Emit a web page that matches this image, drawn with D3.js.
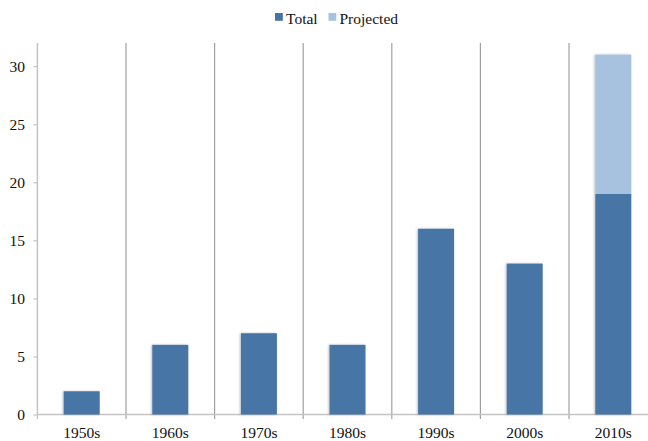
<!DOCTYPE html>
<html><head><meta charset="utf-8">
<script src="https://cdn.jsdelivr.net/npm/d3@7"></script>
<style>body{margin:0;background:#fff}svg{display:block}svg text{font-family:'Liberation Serif','Times New Roman',Times,'DejaVu Serif',serif !important}</style>
</head><body><svg id="c" width="648" height="441"></svg>
<script>
const categories = ["1950s","1960s","1970s","1980s","1990s","2000s","2010s"];
const totalValues = [2,6,7,6,16,13,19];
const projectedValues = [0,0,0,0,0,0,12];
const yTicks = [0,5,10,15,20,25,30];
const seriesNames = ["Total","Projected"];
const colors = ["#4674A5","#A6C2DF"];

(function(){
const FONT = "'Liberation Serif','Times New Roman',Times,serif";
const svg = d3.select("#c");
const pLeft = 37.4, step = 88.6, pTop = 43, pBottom = 414.5;
const x = d3.scaleBand().domain(categories).range([pLeft, pLeft + step*categories.length]).paddingInner(0).paddingOuter(0);
const y = d3.scaleLinear().domain([0,32]).range([pBottom, pTop]);

// vertical separators
const seps = categories.slice(0,-1).map((c)=>x(c)+x.bandwidth());
svg.append("g").selectAll("line").data(seps).join("line")
  .attr("x1",d=>d).attr("x2",d=>d).attr("y1",pTop).attr("y2",pBottom+4.5)
  .attr("stroke","#a0a0a0").attr("stroke-width",1.2);

// y axis
const ya = d3.axisLeft(y).tickValues(yTicks).tickSize(4).tickPadding(8.5);
const gy = svg.append("g").attr("transform",`translate(${pLeft},0)`).call(ya).attr("font-family",FONT).attr("font-size",15.5);
gy.select(".domain").attr("stroke","#c4c4c4").attr("stroke-width",1.5).attr("d",`M0,${pTop}V${pBottom}`);
gy.selectAll(".tick line").attr("stroke","#c4c4c4").attr("stroke-width",1.2);
gy.selectAll(".tick text").attr("fill","#111");

// x axis baseline
svg.append("line").attr("x1",pLeft).attr("x2",648).attr("y1",pBottom).attr("y2",pBottom).attr("stroke","#c4c4c4").attr("stroke-width",1.5);
svg.append("line").attr("x1",pLeft).attr("x2",pLeft).attr("y1",pBottom).attr("y2",pBottom+4.5).attr("stroke","#c4c4c4").attr("stroke-width",1.2);

// x labels
const xa = d3.axisBottom(x).tickSize(0).tickPadding(12.5);
const gx = svg.append("g").attr("transform",`translate(0,${pBottom})`).call(xa).attr("font-family",FONT).attr("font-size",15.5);
gx.select(".domain").remove();
gx.selectAll(".tick text").attr("fill","#111");

// bars
const bw = 36;
const stacked = categories.map((c,i)=>({c, total: totalValues[i], proj: projectedValues[i]}));
const defs = svg.append("defs");
const f = defs.append("filter").attr("id","sh").attr("x","-20%").attr("y","-20%").attr("width","140%").attr("height","140%");
f.append("feDropShadow").attr("dx",-1).attr("dy",0).attr("stdDeviation",0.8).attr("flood-color","#000").attr("flood-opacity",0.25);
const gb = svg.append("g").attr("filter","url(#sh)");
gb.selectAll("rect.t").data(stacked).join("rect").attr("class","t")
  .attr("x",d=>x(d.c)+x.bandwidth()/2-bw/2).attr("width",bw)
  .attr("y",d=>y(d.total)).attr("height",d=>y(0)-y(d.total)).attr("fill",colors[0]);
gb.selectAll("rect.p").data(stacked.filter(d=>d.proj>0)).join("rect").attr("class","p")
  .attr("x",d=>x(d.c)+x.bandwidth()/2-bw/2).attr("width",bw)
  .attr("y",d=>y(d.total+d.proj)).attr("height",d=>y(d.total)-y(d.total+d.proj)).attr("fill",colors[1]);

// legend
const lg = svg.append("g").attr("font-family",FONT).attr("font-size",15.5);
const legendX = [275, 328.5];
seriesNames.forEach((n,i)=>{
  lg.append("rect").attr("x",legendX[i]).attr("y",13).attr("width",7.8).attr("height",7.8).attr("fill",colors[i]);
  lg.append("text").attr("x",legendX[i]+11).attr("y",24).attr("fill","#111").text(n);
});
})();
</script></body></html>
